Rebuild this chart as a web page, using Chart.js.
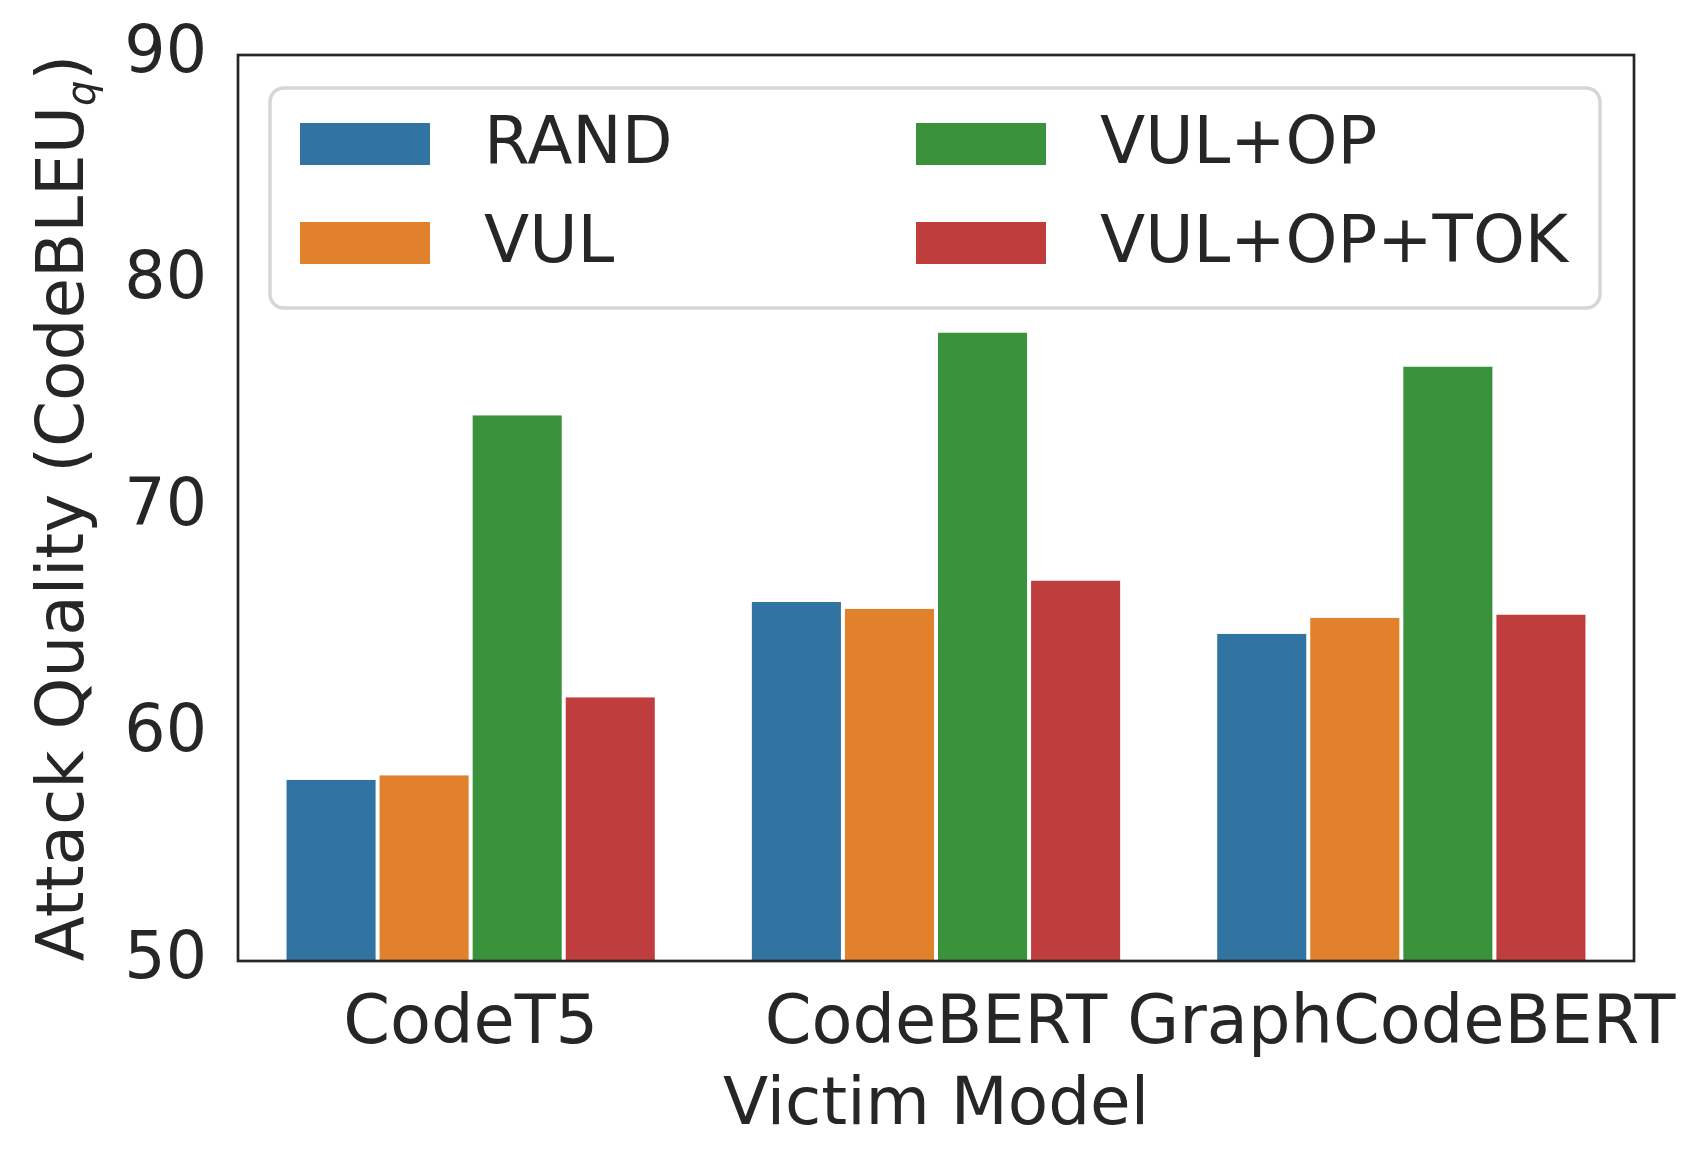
<!DOCTYPE html>
<html>
<head>
<meta charset="utf-8">
<title>Attack Quality by Victim Model</title>
<script src="https://cdn.jsdelivr.net/npm/chart.js@4.4.1/dist/chart.umd.min.js"></script>
<style>
  html, body { margin: 0; padding: 0; background: #ffffff; }
  #chart { display: block; }
</style>
</head>
<body>
<canvas id="chart" width="1702" height="1169"></canvas>
<script>
// Victim models on the x axis
const categories = ['CodeT5', 'CodeBERT', 'GraphCodeBERT'];

// Attack quality (CodeBLEU_q) per strategy
const randScores = [58.0, 65.85, 64.45];
const vulScores = [58.2, 65.55, 65.15];
const vulOpScores = [74.1, 77.75, 76.25];
const vulOpTokScores = [61.65, 66.8, 65.3];

const seriesNames = ['RAND', 'VUL', 'VUL+OP', 'VUL+OP+TOK'];
const seriesColors = ['#3274a1', '#e1812c', '#3a923a', '#c03d3e'];

const yMin = 50;
const yMax = 90;
const yStep = 10;

const FONT = "'DejaVu Sans', 'Liberation Sans', sans-serif";
const INK = '#262626';

// y label with the italic subscript q, drawn by hand
const yTitlePlugin = {
    id: 'yTitle',
    afterDraw(chart) {
        const ctx = chart.ctx;
        const area = chart.chartArea;
        const main = 'Attack Quality (CodeBLEU';
        const sub = 'q';
        const tail = ')';
        ctx.save();
        ctx.fillStyle = INK;
        ctx.textBaseline = 'alphabetic';
        ctx.font = '66px ' + FONT;
        const wMain = ctx.measureText(main).width;
        const wTail = ctx.measureText(tail).width;
        ctx.font = 'italic 40px ' + FONT;
        const wSub = ctx.measureText(sub).width;
        const total = wMain + wSub + wTail;
        ctx.translate(83, (area.top + area.bottom) / 2);
        ctx.rotate(-Math.PI / 2);
        let x = -total / 2;
        ctx.textAlign = 'left';
        ctx.font = '66px ' + FONT;
        ctx.fillText(main, x, 0);
        x += wMain;
        ctx.font = 'italic 40px ' + FONT;
        ctx.fillText(sub, x, 12);
        x += wSub;
        ctx.font = '66px ' + FONT;
        ctx.fillText(tail, x, 0);
        ctx.restore();
    }
};

// box round the plot and the two-column legend inside it
const framePlugin = {
    id: 'frame',
    afterDatasetsDraw(chart) {
        const ctx = chart.ctx;
        const a = chart.chartArea;
        ctx.save();
        ctx.strokeStyle = INK;
        ctx.lineWidth = 2.7;
        ctx.strokeRect(a.left, a.top, a.right - a.left, a.bottom - a.top);

        // legend, filled column by column like matplotlib ncol=2
        const bx = a.left + 32, by = a.top + 33, bw = 1330, bh = 220;
        ctx.beginPath();
        ctx.roundRect(bx, by, bw, bh, 14);
        ctx.fillStyle = 'rgba(255,255,255,0.8)';
        ctx.fill();
        ctx.lineWidth = 3.5;
        ctx.strokeStyle = '#d6d6d6';
        ctx.stroke();

        const colX = [bx + 30, bx + 646];
        const rowY = [by + 56, by + 155];
        ctx.font = '66px ' + FONT;
        ctx.textBaseline = 'middle';
        ctx.textAlign = 'left';
        chart.data.datasets.forEach((ds, i) => {
            const cx = colX[Math.floor(i / 2)];
            const cy = rowY[i % 2];
            ctx.fillStyle = ds.backgroundColor;
            ctx.fillRect(cx, cy - 21, 130, 42);
            ctx.fillStyle = INK;
            ctx.fillText(ds.label, cx + 184, cy + 2);
        });
        ctx.restore();
    }
};

const seriesData = [randScores, vulScores, vulOpScores, vulOpTokScores];

new Chart(document.getElementById('chart'), {
    type: 'bar',
    data: {
        labels: categories,
        datasets: seriesNames.map((name, i) => ({
            label: name,
            data: seriesData[i],
            backgroundColor: seriesColors[i],
            borderColor: '#ffffff',
            borderWidth: { left: 2, right: 2, top: 0, bottom: 0 },
            categoryPercentage: 0.8,
            barPercentage: 1.0
        }))
    },
    options: {
        responsive: false,
        animation: false,
        devicePixelRatio: 1,
        // plot box at left 238, top 55, right 1634, bottom 961
        layout: { padding: { left: 0, top: 55, right: 68, bottom: 0 } },
        plugins: {
            legend: { display: false },
            tooltip: { enabled: false }
        },
        scales: {
            x: {
                grid: { display: false, drawTicks: false },
                border: { display: false },
                ticks: {
                    color: INK,
                    font: { family: FONT, size: 67 },
                    padding: 24,
                    maxRotation: 0,
                    autoSkip: false
                },
                title: {
                    display: true,
                    text: 'Victim Model',
                    color: INK,
                    font: { family: FONT, size: 66 },
                    padding: { top: 0, bottom: 23 }
                },
                afterFit(scale) {
                    scale.height = 208;
                    scale.paddingLeft = 0;
                    scale.paddingRight = 0;
                }
            },
            y: {
                min: yMin,
                max: yMax,
                grid: { display: false, drawTicks: false },
                border: { display: false },
                ticks: {
                    stepSize: yStep,
                    color: INK,
                    font: { family: FONT, size: 65 },
                    padding: 31
                },
                afterFit(scale) {
                    scale.width = 238;
                    scale.paddingTop = 0;
                    scale.paddingBottom = 0;
                }
            }
        }
    },
    plugins: [framePlugin, yTitlePlugin]
});
</script>
</body>
</html>
